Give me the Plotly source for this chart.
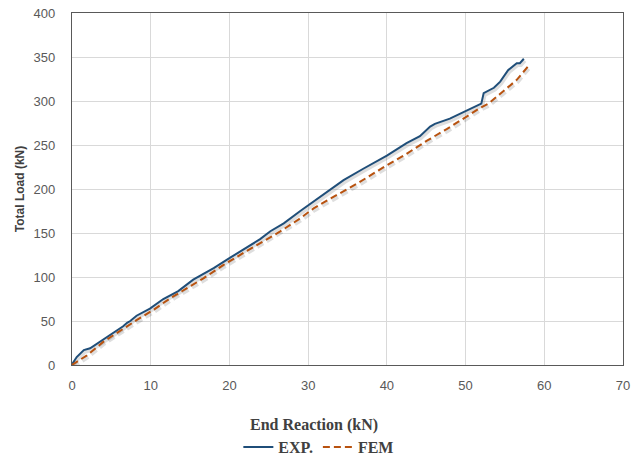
import plotly.graph_objects as go

exp_x = [0, 0.1, 0.6, 1.5, 2.3, 3.0, 4.0, 5.3, 6.5, 7.0, 7.4, 8.2, 9.9, 11.6, 13.5, 15.4,
         18.0, 20.1, 22.2, 23.9, 25.2, 26.9, 29.0, 31.9, 34.5, 37.0, 40.0, 42.5, 44.2,
         45.5, 46.1, 48.0, 50.1, 52.0, 52.3, 53.6, 54.4, 55.4, 56.5, 56.9, 57.4]
exp_y = [0, 2, 9, 17, 19, 23, 29.5, 37, 44, 48, 50, 56, 64, 75, 84, 97,
         110, 122, 134, 143, 152, 161, 175, 193, 210, 223, 238, 252, 260,
         271, 274, 280, 289, 297, 309, 315, 322, 335, 343, 343, 348]

fem_x = [0, 1.9, 4.0, 6.1, 8.2, 10.4, 12.5, 16.7, 19.2, 21.8, 24.3, 26.4, 28.8,
         30.7, 33.6, 36.2, 40.0, 42.5, 45.1, 47.6, 50.6, 51.8, 52.9, 55.0, 56.5, 58.0]
fem_y = [0, 11, 26.5, 39, 51, 63, 76, 98.5, 113.5, 127.5, 141, 151.5, 165.5,
         178, 193, 206, 227, 240, 255, 268, 285, 292, 297, 312.5, 324, 340]

x_ticks = [0, 10, 20, 30, 40, 50, 60, 70]
y_ticks = [0, 50, 100, 150, 200, 250, 300, 350, 400]

# soft drop-shadow offset (in axis units, ~1px right, ~2px down)
sx, sy = 0.15, -2.3

fig = go.Figure()
fig.add_trace(go.Scatter(x=[v + sx for v in exp_x], y=[v + sy for v in exp_y], mode="lines",
                         line=dict(color="rgba(0,0,0,0.13)", width=3.5), showlegend=False,
                         hoverinfo="skip"))
fig.add_trace(go.Scatter(x=[v + sx for v in fem_x], y=[v + sy for v in fem_y], mode="lines",
                         line=dict(color="rgba(0,0,0,0.13)", width=3.5, dash="7px,4px"),
                         showlegend=False, hoverinfo="skip"))
fig.add_trace(go.Scatter(x=exp_x, y=exp_y, mode="lines", name="EXP.",
                         line=dict(color="#1F4E79", width=2)))
fig.add_trace(go.Scatter(x=fem_x, y=fem_y, mode="lines", name="FEM",
                         line=dict(color="#B8520F", width=2, dash="7px,4px")))

axis_common = dict(showgrid=True, gridcolor="#D9D9D9", gridwidth=1,
                   showline=True, linecolor="#595959", linewidth=1.3, mirror=True,
                   zeroline=False, ticks="",
                   tickfont=dict(family="Liberation Sans, Arial", size=13, color="#595959"))

fig.update_layout(
    width=631, height=461,
    margin=dict(l=72, r=8, t=13, b=96, autoexpand=False),
    paper_bgcolor="white", plot_bgcolor="white",
    xaxis=dict(range=[0, 70], tickvals=x_ticks, ticklabelstandoff=8, **axis_common),
    yaxis=dict(range=[0, 400], tickvals=y_ticks, ticklabelstandoff=13,
               title=dict(text="Total Load (kN)", standoff=6,
                          font=dict(family="Liberation Sans Narrow, Liberation Sans, Arial",
                                    size=12, color="#404040", weight="bold")),
               **axis_common),
    legend=dict(orientation="h", x=0.448, xanchor="center", y=-0.185, yanchor="top",
                font=dict(family="Liberation Serif", size=16, color="#404040", weight="bold"),
                itemwidth=30, tracegroupgap=0),
    showlegend=True,
    annotations=[dict(text="End Reaction (kN)", xref="paper", yref="paper",
                      x=0.439, y=-0.17, xanchor="center", yanchor="middle", showarrow=False,
                      font=dict(family="Liberation Serif", size=16, color="#404040",
                                weight="bold"))],
)

fig.write_html("out.html")
